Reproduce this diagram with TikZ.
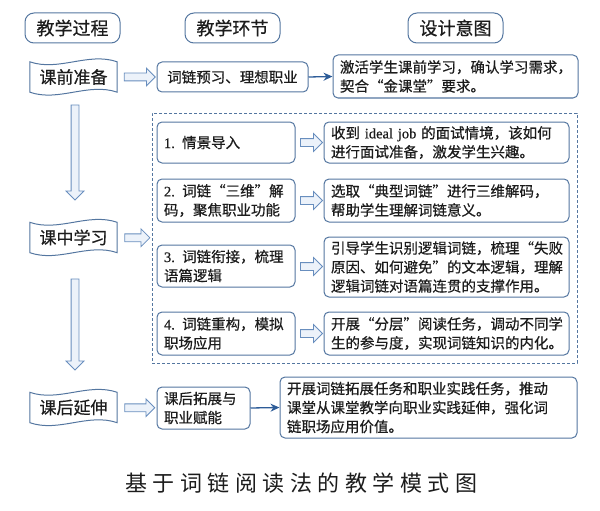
\documentclass[tikz,border=0pt]{standalone}
\usepackage{fontspec}
\setmainfont{Noto Sans CJK SC}[FakeBold=0.5]
\newfontfamily\capfont{Noto Sans CJK SC}[LetterSpace=25]
\newfontfamily\lat{Liberation Serif}[FakeBold=0.5]
\usetikzlibrary{shapes.arrows,calc,arrows.meta}
\definecolor{bd}{RGB}{84,118,160}
\definecolor{afill}{RGB}{236,242,250}
\definecolor{aline}{RGB}{104,142,190}
\definecolor{darr}{RGB}{45,92,152}
\definecolor{txt}{RGB}{28,28,28}
\begin{document}
\begin{tikzpicture}[x=1pt,y=-1pt,
  box/.style={draw=bd, line width=1pt, rounded corners=5pt, fill=white, text=txt,
    inner xsep=7pt, inner ysep=2pt, align=left, font=\fontsize{14.5}{19}\selectfont},
  hdr/.style={draw=bd, line width=1pt, rounded corners=9pt, text=txt,
    minimum width=95pt, minimum height=30pt, inner sep=0pt, font=\fontsize{18}{20}\selectfont},
  wavelbl/.style={minimum width=87pt, minimum height=30pt, inner sep=0pt, text=txt,
    font=\fontsize{17}{20}\selectfont},
  wavebd/.style={draw=bd, line width=1pt},
  harrow/.style={draw=aline, fill=afill, line width=0.8pt, single arrow,
    single arrow head extend=5pt, inner sep=3.5pt, minimum height=#1, anchor=center},
  varrow/.style={harrow=#1, shape border rotate=270},
  darrow/.style={draw=darr, line width=1.3pt, -{Stealth[length=9pt,width=8pt]}},
  frame/.style={draw=bd, line width=0.9pt, dash pattern=on 3pt off 2pt}
]
\useasboundingbox (0,0) rectangle (600,511);

% headers
\node[hdr] (h1) at (72.5,28) {教学过程};
\node[hdr] (h2) at (232.5,28) {教学环节};
\node[hdr] (h3) at (455.5,28) {设计意图};

% wave labels
\foreach \n/\y/\t in {w1/77/课前准备, w2/237.5/课中学习, w3/407.5/课后延伸}{
  \node[wavelbl] (\n) at (73.5,\y) {\t};
  \draw[wavebd] (\n.north west) .. controls ($(\n.north west)+(29,10)$) and ($(\n.north east)+(-29,-10)$) .. (\n.north east)
    -- (\n.south east) .. controls ($(\n.south east)+(-29,-10)$) and ($(\n.south west)+(29,10)$) .. (\n.south west) -- cycle;
}

% pre-class
\node[box, minimum width=151pt, minimum height=30pt, align=center] (b0) at (232.5,77) {词链预习、理想职业};
\node[box, minimum width=245pt, minimum height=43pt, text width=231pt] (r0) at (455.5,76.5)
  {激活学生课前学习，确认学习需求，\\契合“金课堂”要求。};

% dashed frame
\node[frame, minimum width=425pt, minimum height=250pt] (fr) at (364.5,238) {};

% in-class steps
\node[box, minimum width=138pt, minimum height=41pt, text width=124pt] (s1) at (226,142.5) {{\lat 1.} 情景导入};
\node[box, minimum width=138pt, minimum height=43pt, text width=124pt] (s2) at (226,200.5) {{\lat 2.} 词链“三维”解\\码，聚焦职业功能};
\node[box, minimum width=138pt, minimum height=42pt, text width=124pt] (s3) at (226,266) {{\lat 3.} 词链衔接，梳理\\语篇逻辑};
\node[box, minimum width=138pt, minimum height=43pt, text width=124pt] (s4) at (226,333.5) {{\lat 4.} 词链重构，模拟\\职场应用};

\node[box, minimum width=245pt, minimum height=41pt, text width=231pt] (t1) at (446.5,142.5)
  {收到 {\lat ideal job} 的面试情境，该如何\\进行面试准备，激发学生兴趣。};
\node[box, minimum width=245pt, minimum height=43pt, text width=231pt] (t2) at (446.5,200.5)
  {选取“典型词链”进行三维解码，\\帮助学生理解词链意义。};
\node[box, minimum width=245pt, minimum height=60pt, text width=231pt] (t3) at (446.5,267)
  {引导学生识别逻辑词链，梳理“失败\\原因、如何避免”的文本逻辑，理解\\逻辑词链对语篇连贯的支撑作用。};
\node[box, minimum width=245pt, minimum height=43pt, text width=231pt] (t4) at (446.5,333.5)
  {开展“分层”阅读任务，调动不同学\\生的参与度，实现词链知识的内化。};

% post-class
\node[box, minimum width=93pt, minimum height=42pt, text width=79pt] (u1) at (203.5,408) {课后拓展与\\职业赋能};
\node[box, minimum width=297pt, minimum height=61pt, text width=283pt] (u2) at (428.5,407.5)
  {开展词链拓展任务和职业实践任务，推动\\课堂从课堂教学向职业实践延伸，强化词\\链职场应用价值。};

% hollow arrows
\node[harrow=31pt] (a0) at ($(w1.east)!0.5!(b0.west)+(1,0)$) {};
\node[harrow=25pt] (a5) at ($(w2.east)!0.5!(fr.west)+(1,0)$) {};
\node[harrow=30pt] (a6) at ($(w3.east)!0.5!(u1.west)+(1,0)$) {};
\foreach \i in {1,2,3,4}{
  \node[harrow=22pt] (ha\i) at ($(s\i.east)!0.5!(t\i.west)$) {};
}
\node[varrow=95pt] (v1) at (75,150.5) {};
\node[varrow=91pt] (v2) at (75,322.5) {};

% solid arrows
\draw[darrow] (b0.east) -- (r0.west);
\draw[darrow] (u1.east) -- (u2.west);

% caption
\node[text=txt, font=\capfont\fontsize{22}{24}\selectfont] (cap) at (301,483) {基于词链阅读法的教学模式图};
\end{tikzpicture}
\end{document}
